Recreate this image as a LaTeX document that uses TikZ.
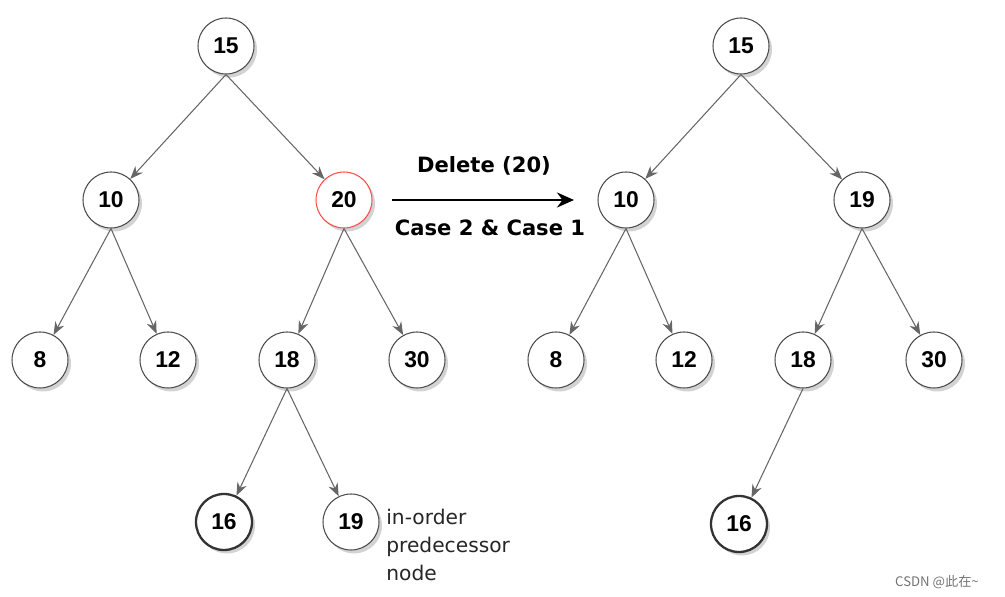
\documentclass[tikz,border=0pt]{standalone}
\usepackage{fontspec}
\setmainfont{Liberation Sans}
\newfontfamily\labelfont{DejaVu Sans}
\newfontfamily\cjk{Noto Sans CJK SC}
\usetikzlibrary{arrows.meta}
\usetikzlibrary{shadows}

\tikzset{
  treenode/.style={circle, draw=black!70, fill=white, line width=0.6pt, minimum size=1.12cm, inner sep=0pt,
    font=\fontsize{13}{15}\selectfont\bfseries, drop shadow={opacity=0.35, shadow xshift=0.6mm, shadow yshift=-0.7mm}},
  leafnode/.style={treenode, draw=black!80, line width=1.3pt},
  edge/.style={draw=black!60, line width=0.6pt, -{Stealth[length=2.6mm, width=2mm]}}
}

\begin{document}
\begin{tikzpicture}[x=0.02cm, y=-0.02cm]
      \useasboundingbox (0,0) rectangle (1005,597);

      % tree before the deletion
      \node[treenode] (l15) at (226,46) {15};
      \node[treenode] (l10) at (111,200) {10};
      \node[treenode, draw=red!70] (l20) at (344,200) {20};
      \node[treenode] (l8) at (40,360) {8};
      \node[treenode] (l12) at (168,360) {12};
      \node[treenode] (l18) at (287,360) {18};
      \node[treenode] (l30) at (417,360) {30};
      \node[leafnode] (l16) at (224,522) {16};
      \node[treenode] (l19) at (351,522) {19};

      \draw[edge] (l15.south) -- (l10);
      \draw[edge] (l15.south) -- (l20);
      \draw[edge] (l10.south) -- (l8);
      \draw[edge] (l10.south) -- (l12);
      \draw[edge] (l20.south) -- (l18);
      \draw[edge] (l20.south) -- (l30);
      \draw[edge] (l18.south) -- (l16);
      \draw[edge] (l18.south) -- (l19);

      \node[anchor=north west, align=left, text=black!85, font=\labelfont\fontsize{11.5}{16}\selectfont, inner sep=0pt] (note) at (386,509) {in-order\\predecessor\\node};

      % the step
      \coordinate (from) at (392,200);
      \coordinate (to) at (574,200);
      \draw[line width=1.6pt, -{Stealth[length=3.4mm, width=3mm]}] (from) -- (to);
      \node[font=\labelfont\bfseries\fontsize{12}{14}\selectfont] (del) at (484,166) {Delete (20)};
      \node[font=\labelfont\bfseries\fontsize{12}{14}\selectfont] (case) at (490,228) {Case 2 \& Case 1};

      % tree after the deletion
      \node[treenode] (r15) at (741,46) {15};
      \node[treenode] (r10) at (626,200) {10};
      \node[treenode] (r19) at (862,200) {19};
      \node[treenode] (r8) at (556,360) {8};
      \node[treenode] (r12) at (684,360) {12};
      \node[treenode] (r18) at (803,360) {18};
      \node[treenode] (r30) at (934,360) {30};
      \node[leafnode] (r16) at (739,524) {16};

      \draw[edge] (r15.south) -- (r10);
      \draw[edge] (r15.south) -- (r19);
      \draw[edge] (r10.south) -- (r8);
      \draw[edge] (r10.south) -- (r12);
      \draw[edge] (r19.south) -- (r18);
      \draw[edge] (r19.south) -- (r30);
      \draw[edge] (r18.south) -- (r16);

      \node[text=black!55, font=\cjk\fontsize{7.5}{9}\selectfont] (mark) at (937,582) {CSDN @此在\textasciitilde};
\end{tikzpicture}
\end{document}
